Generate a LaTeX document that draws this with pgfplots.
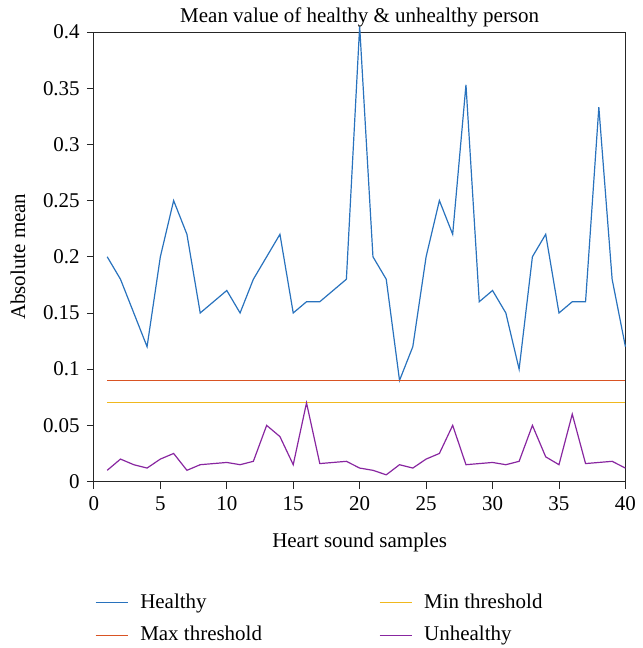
\documentclass[border=0pt]{standalone}
\usepackage{fontspec}
\setmainfont{Liberation Serif}
\usepackage{pgfplots}
\pgfplotsset{compat=1.18}
\definecolor{cH}{RGB}{40,114,189}
\definecolor{cMax}{RGB}{217,83,35}
\definecolor{cMin}{RGB}{240,184,30}
\definecolor{cU}{RGB}{136,38,160}
\begin{document}
\fontsize{21bp}{25bp}\selectfont
\begin{tikzpicture}
\begin{axis}[
  name=ax,
  scale only axis,
  width=532bp, height=450bp,
  xmin=0, xmax=40, ymin=0, ymax=0.4,
  xtick={0,5,...,40},
  ytick={0,0.05,0.1,0.15,0.2,0.25,0.3,0.35,0.4},
  yticklabel style={/pgf/number format/fixed,/pgf/number format/precision=2},
  /pgf/number format/assume math mode=true,
  tick align=outside, tick pos=left,
  major tick length=7bp,
  axis line style={black!85, line width=0.9bp},
  every tick/.style={black!85, line width=0.9bp},
  ticklabel style={font=\fontsize{21bp}{25bp}\selectfont},
  xticklabel style={yshift=-1bp},
  every axis y label/.style={at={(axis description cs:-0.1429,0.5)}, rotate=90, anchor=center, font=\fontsize{21bp}{25bp}\selectfont},
  every axis x label/.style={at={(axis description cs:0.5,-0.1356)}, anchor=center, font=\fontsize{21bp}{25bp}\selectfont},
  every axis title/.style={at={(axis description cs:0.5,1.02)}, anchor=base, font=\fontsize{21bp}{25bp}\selectfont},
  title={Mean value of healthy \& unhealthy person},
  xlabel={Heart sound samples},
  ylabel={Absolute mean},
  clip=false,
  legend columns=2,
  legend cell align=left,
  legend style={draw=none, fill=none, at={(0,-0.24)}, anchor=north west, xshift=-2bp,
    font=\fontsize{21bp}{25bp}\selectfont,
    nodes={inner xsep=12bp},
    row sep=11bp},
  legend image code/.code={\draw[#1] (0bp,0bp) -- (32bp,0bp);},
  every axis plot/.append style={line width=1.2bp},
]
\addplot[cH] coordinates {
(1,0.2)(2,0.18)(3,0.15)(4,0.12)(5,0.2)(6,0.25)(7,0.22)(8,0.15)(9,0.16)(10,0.17)
(11,0.15)(12,0.18)(13,0.2)(14,0.22)(15,0.15)(16,0.16)(17,0.16)(18,0.17)(19,0.18)(20,0.405)
(21,0.2)(22,0.18)(23,0.09)(24,0.12)(25,0.2)(26,0.25)(27,0.22)(28,0.353)(29,0.16)(30,0.17)
(31,0.15)(32,0.1)(33,0.2)(34,0.22)(35,0.15)(36,0.16)(37,0.16)(38,0.333)(39,0.18)(40,0.12)};
\addlegendentry{\makebox[227bp][l]{Healthy}}
\addplot[cMin] coordinates {(1,0.07)(40,0.07)};
\addlegendentry{Min threshold}
\addplot[cMax] coordinates {(1,0.09)(40,0.09)};
\addlegendentry{\makebox[227bp][l]{Max threshold}}
\addplot[cU] coordinates {
(1,0.01)(2,0.02)(3,0.015)(4,0.012)(5,0.02)(6,0.025)(7,0.01)(8,0.015)(9,0.016)(10,0.017)
(11,0.015)(12,0.018)(13,0.05)(14,0.04)(15,0.015)(16,0.07)(17,0.016)(18,0.017)(19,0.018)(20,0.012)
(21,0.01)(22,0.006)(23,0.015)(24,0.012)(25,0.02)(26,0.025)(27,0.05)(28,0.015)(29,0.016)(30,0.017)
(31,0.015)(32,0.018)(33,0.05)(34,0.022)(35,0.015)(36,0.06)(37,0.016)(38,0.017)(39,0.018)(40,0.012)};
\addlegendentry{Unhealthy}
\end{axis}
\path (ax.south west) ++(-94bp,-166bp) rectangle ++(637bp,648bp);
\end{tikzpicture}
\end{document}
